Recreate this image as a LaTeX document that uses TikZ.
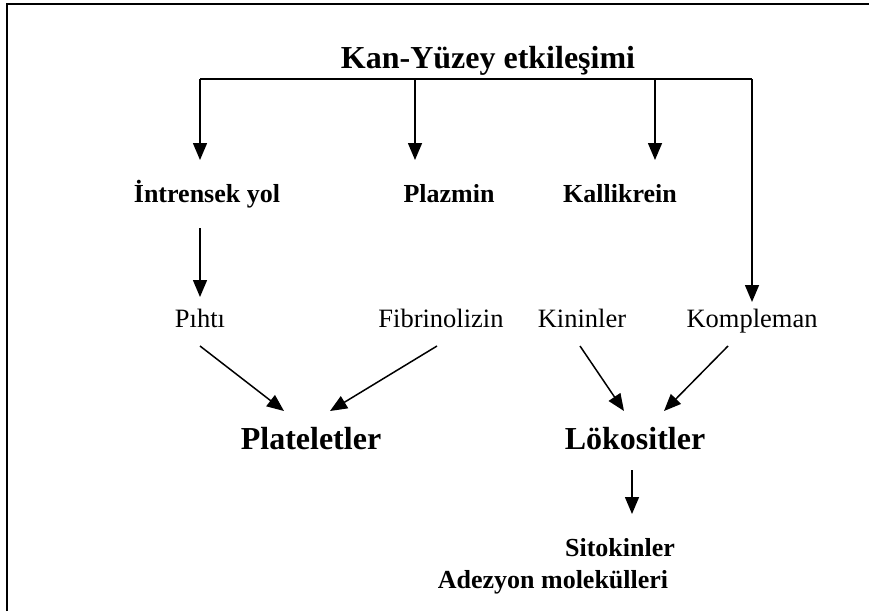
\documentclass[tikz,border=0pt]{standalone}
\usepackage{fontspec}
\setmainfont{Liberation Serif}
\usetikzlibrary{arrows.meta}

\tikzset{
  lbl/.style={inner sep=0pt, anchor=base, font=\fontsize{26.5pt}{30pt}\selectfont},
  blbl/.style={inner sep=0pt, anchor=base, font=\fontsize{26pt}{30pt}\selectfont\bfseries},
  biglbl/.style={inner sep=0pt, anchor=base, font=\fontsize{32pt}{36pt}\selectfont\bfseries},
  conn/.style={line width=1.5pt},
  arr/.style={conn, -{Triangle[length=17pt,width=14pt]}},
  frameline/.style={line width=2.2pt}
}

\begin{document}
\begin{tikzpicture}[x=1pt,y=-1pt]
  \useasboundingbox (0,0) rectangle (869,611);

  % open frame: top and left edges only
  \coordinate (fbl) at (7,611);
  \coordinate (ftl) at (7,4);
  \coordinate (ftr) at (869,4);
  \draw[frameline] (fbl) -- (ftl) -- (ftr);

  % labels
  \node[biglbl] (title) at (488,68) {Kan-Yüzey etkileşimi};

  \node[blbl] (intr) at (207,202) {İntrensek yol};
  \node[blbl] (plaz) at (449,202) {Plazmin};
  \node[blbl] (kall) at (620,202) {Kallikrein};

  \node[lbl] (piht) at (200,327) {Pıhtı};
  \node[lbl] (fibr) at (441,327) {Fibrinolizin};
  \node[lbl] (kini) at (582,327) {Kininler};
  \node[lbl] (komp) at (752,327) {Kompleman};

  \node[biglbl] (plat) at (311,449) {Plateletler};
  \node[biglbl] (loko) at (635,449) {Lökositler};

  \node[blbl] (sito) at (620,556) {Sitokinler};
  \node[blbl] (adez) at (553,588) {Adezyon molekülleri};

  % distribution bar under the title
  \coordinate (b1) at (200,79);
  \coordinate (b2) at (415,79);
  \coordinate (b3) at (655,79);
  \coordinate (b4) at (752,79);
  \draw[conn] (b1) -- (b4);

  \coordinate (t1) at (200,160);
  \coordinate (t2) at (415,160);
  \coordinate (t3) at (655,160);
  \coordinate (t4) at (752,302);
  \draw[arr] (b1) -- (t1);
  \draw[arr] (b2) -- (t2);
  \draw[arr] (b3) -- (t3);
  \draw[arr] (b4) -- (t4);

  % intrinsic pathway to clot
  \coordinate (i1) at (200,228);
  \coordinate (i2) at (200,297);
  \draw[arr] (i1) -- (i2);

  % converging arrows
  \coordinate (d1s) at (200,346); \coordinate (d1e) at (284,411);
  \coordinate (d2s) at (437,346); \coordinate (d2e) at (330,411);
  \coordinate (d3s) at (580,346); \coordinate (d3e) at (624,411);
  \coordinate (d4s) at (728,346); \coordinate (d4e) at (664,411);
  \draw[arr] (d1s) -- (d1e);
  \draw[arr] (d2s) -- (d2e);
  \draw[arr] (d3s) -- (d3e);
  \draw[arr] (d4s) -- (d4e);

  % leukocytes to cytokines
  \coordinate (l1) at (632,470);
  \coordinate (l2) at (632,514);
  \draw[arr] (l1) -- (l2);
\end{tikzpicture}
\end{document}
